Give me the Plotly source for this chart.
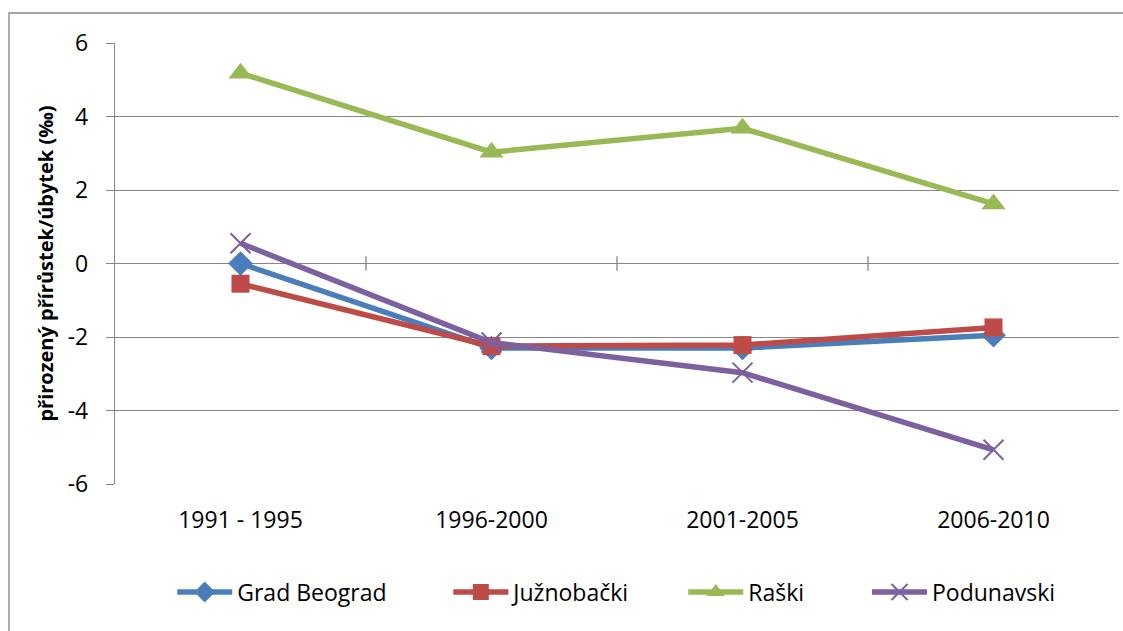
import plotly.graph_objects as go

categories = ["1991 - 1995", "1996-2000", "2001-2005", "2006-2010"]
grad_beograd = [0.0, -2.3, -2.3, -1.95]
juznobacki = [-0.55, -2.25, -2.22, -1.74]
raski = [5.18, 3.03, 3.68, 1.62]
podunavski = [0.55, -2.15, -2.97, -5.07]

series_names = ["Grad Beograd", "Južnobački", "Raški", "Podunavski"]
y_tick_vals = [-6, -4, -2, 0, 2, 4, 6]
y_tick_text = ["-6", "-4", "-2", "0", "2", "4", "6"]
y_title = "přirozený přírůstek/úbytek (‰)"

colors = ["#4A7EBB", "#BE4B48", "#98B954", "#7D60A0"]
symbols = ["diamond", "square", "triangle-up", "x-thin"]
sizes = [19, 18, 21, 20]
legend_x = [0.057, 0.332, 0.566, 0.749]
legend_ids = ["legend", "legend2", "legend3", "legend4"]

FONT = "Open Sans"
TICK_SIZE = 23
fig = go.Figure()
for i, (name, vals) in enumerate(zip(series_names, [grad_beograd, juznobacki, raski, podunavski])):
    marker = dict(symbol=symbols[i], size=sizes[i], color=colors[i])
    if symbols[i] == "x-thin":
        marker["line"] = dict(color=colors[i], width=2)
    fig.add_trace(go.Scatter(
        x=categories, y=vals, name=name, mode="lines+markers",
        line=dict(color=colors[i], width=5.5),
        marker=marker,
        legend=legend_ids[i],
    ))

# small tick marks on the category axis crossing at y=0
n = len(categories)
shapes = []
for k in range(1, n):
    shapes.append(dict(type="line", xref="x", yref="y", x0=k - 0.5, x1=k - 0.5,
                       y0=-0.2, y1=0.2, line=dict(color="#868686", width=1.3)))
# outer chart border
shapes.append(dict(type="rect", xref="paper", yref="paper",
                   x0=-0.1056, x1=1.05, y0=-0.7, y1=1.068,
                   line=dict(color="#868686", width=1.3), layer="below"))

legend_common = dict(orientation="h", yanchor="middle", y=-0.245, xanchor="left",
                     font=dict(family=FONT, size=TICK_SIZE, color="#000000"),
                     itemwidth=55, bgcolor="rgba(0,0,0,0)", tracegroupgap=0)
layout_legends = {}
for i, lid in enumerate(legend_ids):
    layout_legends[lid] = dict(legend_common, x=legend_x[i])

fig.update_layout(
    width=1123, height=631,
    margin=dict(l=115, r=4, t=43, b=147),
    paper_bgcolor="white", plot_bgcolor="white",
    font=dict(family=FONT, size=TICK_SIZE, color="#000000"),
    showlegend=True,
    shapes=shapes,
    xaxis=dict(type="category", range=[-0.5, n - 0.5], showgrid=False, zeroline=False,
               showline=False, ticks="", ticklabelstandoff=20,
               tickfont=dict(family=FONT, size=TICK_SIZE, color="#000000")),
    yaxis=dict(range=[-6, 6], tickvals=y_tick_vals, ticktext=y_tick_text,
               showgrid=True, gridcolor="#868686", gridwidth=1.3, zeroline=False,
               showline=True, linecolor="#868686", linewidth=1.3,
               ticks="outside", ticklen=8, tickcolor="#868686", tickwidth=1.3,
               ticklabelstandoff=13,
               tickfont=dict(family=FONT, size=TICK_SIZE, color="#000000"),
               title=dict(text=y_title, standoff=8,
                          font=dict(family=FONT, size=20, color="#000000", weight="bold"))),
    **layout_legends,
)

fig.write_html(
    "out.html",
    config={"displayModeBar": False},
    post_script="document.body.style.margin='0';document.body.style.overflow='hidden';",
)
